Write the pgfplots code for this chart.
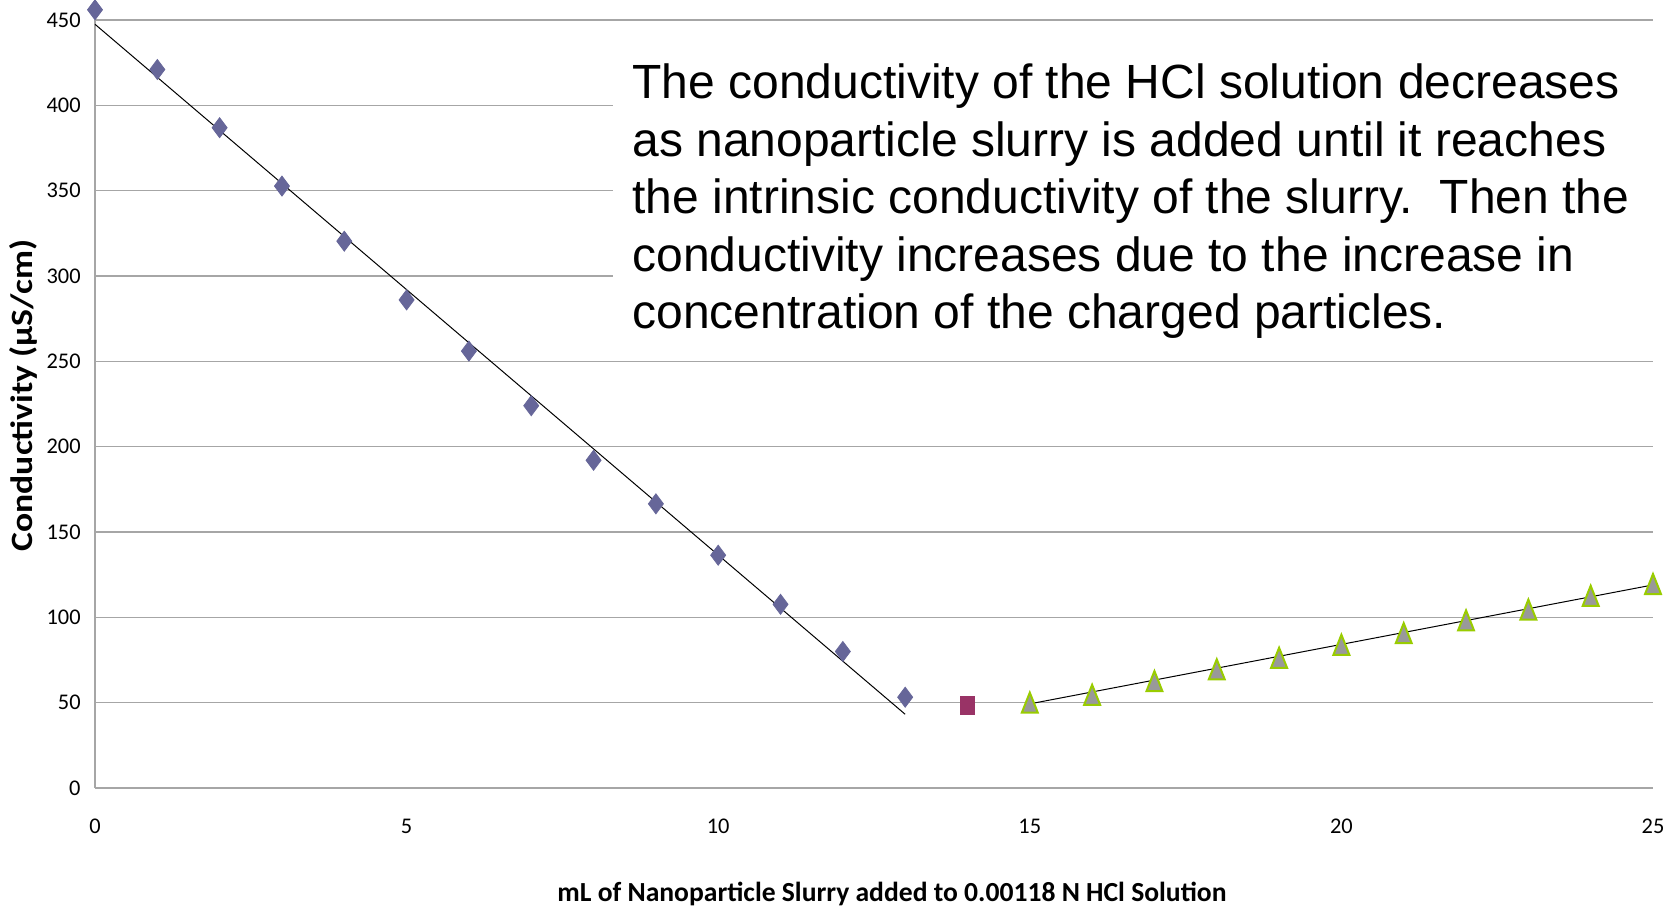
\documentclass[border=0pt]{standalone}
\usepackage{pgfplots}
\pgfplotsset{compat=1.18}
\usepackage{fontspec}
\usepackage{graphicx}
\setmainfont{Carlito}
\newfontfamily\arialfont{Liberation Sans}
\definecolor{diam}{HTML}{666699}
\definecolor{sq}{HTML}{993366}
\definecolor{trifill}{HTML}{999999}
\definecolor{tridraw}{HTML}{99CC00}
\definecolor{gridc}{HTML}{A6A6A6}
\begin{document}
\begin{tikzpicture}
\begin{axis}[
  scale only axis,
  width=779bp, height=384bp,
  xmin=0, xmax=25, ymin=0, ymax=450,
  xtick={0,5,10,15,20,25},
  ytick={0,50,100,150,200,250,300,350,400,450},
  axis x line=bottom, axis y line=left,
  axis line style={-, gridc, line width=0.75bp},
  major tick length=0pt,
  ymajorgrids,
  grid style={gridc, line width=0.75bp},
  tick label style={font=\fontsize{11.2bp}{13bp}\selectfont, inner sep=0pt},
  /pgf/number format/assume math mode=true,
  xticklabel style={anchor=center, yshift=-19bp},
  yticklabel style={anchor=east, xshift=-7bp},
  xlabel={mL of Nanoparticle Slurry added to 0.00118 N HCl Solution},
  ylabel={\scalebox{1.15}[1]{Conductivity (µS/cm)}},
  xlabel style={font=\bfseries\fontsize{13.8bp}{16bp}\selectfont, at={(axis description cs:0.5115,0)}, anchor=center, yshift=-53bp},
  ylabel style={font=\bfseries\fontsize{15.5bp}{18bp}\selectfont, at={(axis description cs:-0.046,0.511)}, anchor=center},
  clip=false,
]
\addplot[only marks, mark=diamond*, mark size=5bp, mark options={draw=diam, fill=diam}] coordinates {
(0,456) (1,421) (2,386.9) (3,352.7) (4,320.4) (5,286) (6,256) (7,224) (8,192) (9,166.5) (10,136.4) (11,107.6) (12,80) (13,53.2)
};
\addplot[only marks, mark=square*, mark size=3.6bp, mark options={draw=sq, fill=sq, yscale=1.25}] coordinates {
(14,48.3)
};
\addplot[only marks, mark=triangle*, mark size=4.6bp, mark options={draw=tridraw, fill=trifill, line width=1bp, yshift=-1.65bp, yscale=1.45}] coordinates {
(15,50) (16,54.6) (17,62.6) (18,69.5) (19,76.3) (20,83.9) (21,90.7) (22,98.2) (23,104.5) (24,112.6) (25,119.5)
};
\addplot[black, line width=0.5bp, no markers] coordinates {(0,447.5) (13,43.2)};
\addplot[black, line width=0.5bp, no markers] coordinates {(15,49.3) (25,119)};
\end{axis}
\fill[white] (259bp,232bp) rectangle (779bp,378bp);
\node[anchor=north west, inner sep=0pt, align=left, font=\arialfont\fontsize{24bp}{28.75bp}\selectfont] at (268.5bp,362.3bp)
{The conductivity of the HCl solution decreases\\
as nanoparticle slurry is added until it reaches\\
the intrinsic conductivity of the slurry.\ \ Then the\\
conductivity increases due to the increase in\\
concentration of the charged particles.};
\pgfresetboundingbox
\path (-47.5bp,-62bp) rectangle (790.5bp,394bp);
\end{tikzpicture}
\end{document}
